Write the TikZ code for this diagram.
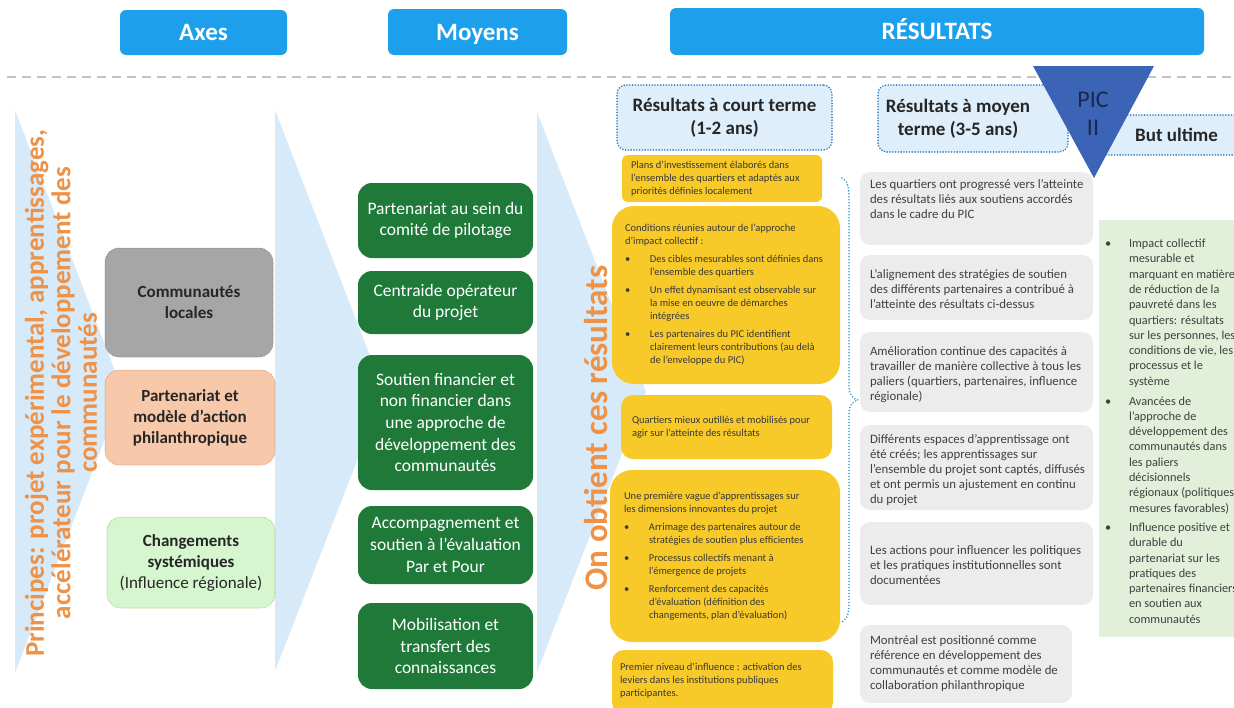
\documentclass[tikz,border=0pt]{standalone}
\usepackage{fontspec}
\setmainfont{Carlito}

\definecolor{hdrblue}{RGB}{28,160,236}
\definecolor{chevblue}{RGB}{214,234,250}
\definecolor{sepgrey}{RGB}{195,195,195}
\definecolor{movgreen}{RGB}{31,122,58}
\definecolor{resyellow}{RGB}{247,201,41}
\definecolor{resgrey}{RGB}{236,236,236}
\definecolor{goalgreen}{RGB}{226,240,217}
\definecolor{headfill}{RGB}{222,238,250}
\definecolor{dotblue}{RGB}{52,125,190}
\definecolor{bracecol}{RGB}{60,160,205}
\definecolor{princorange}{RGB}{238,146,72}
\definecolor{picblue}{RGB}{60,100,182}
\definecolor{pictext}{RGB}{24,40,78}
\definecolor{axgrey}{RGB}{166,166,166}
\definecolor{axgreyline}{RGB}{120,120,120}
\definecolor{axpeach}{RGB}{247,200,170}
\definecolor{axpeachline}{RGB}{205,140,95}
\definecolor{axmint}{RGB}{213,246,207}
\definecolor{axmintline}{RGB}{140,185,105}
\definecolor{darktext}{RGB}{38,38,38}
\definecolor{bodytext}{RGB}{64,64,64}

\newcommand\setfs[2]{\fontsize{#1}{#2}\selectfont}
\newcommand\bulitem[1][25pt]{\makebox[#1][l]{\textbullet}}
\newcommand\bulcont[1][25pt]{\hspace*{#1}}

\tikzset{
  hdr/.style={fill=hdrblue, rounded corners=6pt, text=white, text height=16pt, text depth=0pt, font=\bfseries\setfs{25}{28}},
  colhead/.style={fill=headfill, draw=dotblue, line width=1.8pt, dash pattern=on 0pt off 2.8pt, line cap=round, rounded corners=9pt},
  colheadtext/.style={align=center, text=darktext, font=\bfseries\setfs{19}{23}},
  axbox/.style={rounded corners=14pt, line width=1pt, dash pattern=on 0pt off 2pt, line cap=round, align=center, text=darktext, font=\bfseries\setfs{17}{21}},
  movbox/.style={fill=movgreen, rounded corners=14pt, minimum width=175pt, align=center, text=white, font=\setfs{17.5}{21.7}},
  ybox/.style={fill=resyellow},
  ytext/.style={align=left, text=black!78, font=\setfs{10.5}{13}},
  gbox/.style={fill=resgrey, rounded corners=10pt, minimum width=233pt},
  gtext/.style={align=left, text=bodytext, font=\setfs{12.8}{15}},
  rotlabel/.style={rotate=90, align=center, text=princorange, font=\bfseries},
  bracepath/.style={draw=bracecol, line width=1.8pt, dash pattern=on 0pt off 3pt, line cap=round},
}

\begin{document}
\begin{tikzpicture}[x=1pt, y=-1pt, every node/.style={inner sep=0pt}]
\useasboundingbox (0,0) rectangle (1234,707);
\clip (0,0) rectangle (1234,707);

% flow arrows behind the columns
\fill[chevblue] (15,110) -- (123,392) -- (15,673) -- cycle;
\fill[chevblue] (275,110) -- (384,392) -- (275,671) -- cycle;
\fill[chevblue] (537,112) -- (646,392) -- (537,672) -- cycle;

% column titles
\node[hdr, minimum width=167pt, minimum height=45pt] (axes) at (203.5,32.5) {Axes};
\node[hdr, minimum width=179pt, minimum height=46pt] (moyens) at (477.5,32) {Moyens};
\node[hdr, minimum width=534pt, minimum height=47pt] (resultats) at (937,31.5) {RÉSULTATS};

% separator
\draw[sepgrey, line width=2.6pt, dash pattern=on 9pt off 6pt] (7,77) -- (1234,77);

% vertical labels
\node[rotlabel, font=\bfseries\setfs{27}{26.5}] (principes) at (61,393)
  {Principes: projet expérimental, apprentissages,\\
   accélérateur pour le développement des\\
   communautés};
\node[rotlabel, font=\bfseries\setfs{33}{36}] (obtient) at (596,428) {On obtient ces résultats};

% axes
\node[axbox, fill=axgrey, draw=axgreyline, minimum width=168pt, minimum height=109pt] (ax1) at (189,302.5)
  {Communautés\\locales};
\node[axbox, fill=axpeach, draw=axpeachline, minimum width=170pt, minimum height=95pt] (ax2) at (190,417.5)
  {Partenariat et\\modèle d’action\\philanthropique};
\node[axbox, fill=axmint, draw=axmintline, minimum width=168pt, minimum height=91pt] (ax3) at (191,562.5)
  {Changements\\systémiques\\{\mdseries (Influence régionale)}};

% means
\node[movbox, minimum height=75pt] (m1) at (445.5,220.5) {Partenariat au sein du\\comité de pilotage};
\node[movbox, minimum height=63pt] (m2) at (445.5,302.5) {Centraide opérateur\\du projet};
\node[movbox, minimum height=135pt] (m3) at (445.5,422.5)
  {Soutien financier et\\non financier dans\\une approche de\\développement des\\communautés};
\node[movbox, minimum height=78pt] (m4) at (445.5,545) {Accompagnement et\\soutien à l’évaluation\\Par et Pour};
\node[movbox, minimum height=86pt] (m5) at (445.5,646) {Mobilisation et\\transfert des\\connaissances};

% result column headings
\node[colhead, minimum width=215pt, minimum height=65pt] (courthd) at (724.5,117.5) {};
\node[colheadtext] (courttx) at (courthd.center) {Résultats à court terme\\(1-2 ans)};
\node[colhead, minimum width=190pt, minimum height=67pt] (moyenhd) at (973,118.5) {};
\node[colheadtext] (moyentx) at (958,118.5) {Résultats à moyen\\terme (3-5 ans)};
\node[colhead, minimum width=162pt, minimum height=40pt] (buthd) at (1179,135) {};
\node[colheadtext, anchor=west] (buttx) at (1135,135) {But ultime};

% PIC II marker
\fill[picblue] (1033,66) -- (1154,66) -- (1094,178) -- cycle;
\node[align=center, text=pictext, font=\setfs{24}{28}] (pic) at (1093,114) {PIC\\II};

% short-term results
\node[ybox, rounded corners=6pt, minimum width=200pt, minimum height=47pt] (y1) at (722,178.5) {};
\node[ytext, anchor=west] (y1t) at ([xshift=9pt]y1.west)
  {Plans d'investissement élaborés dans\\
   l'ensemble des quartiers  et adaptés aux\\
   priorités définies localement};
\node[ybox, rounded corners=22pt, minimum width=228pt, minimum height=178pt] (y2) at (726,295) {};
\node[ytext, anchor=west] (y2t) at ([xshift=13pt]y2.west)
  {Conditions réunies autour de l'approche\\
   d'impact collectif :\\[5pt]
   \bulitem Des cibles mesurables sont définies dans\\
   \bulcont l'ensemble des quartiers\\[5pt]
   \bulitem Un effet dynamisant  est observable sur\\
   \bulcont la mise en oeuvre de démarches\\
   \bulcont intégrées\\[5pt]
   \bulitem Les partenaires du PIC identifient\\
   \bulcont clairement  leurs  contributions (au delà\\
   \bulcont de l'enveloppe du PIC)};
\node[ybox, rounded corners=12pt, minimum width=211pt, minimum height=64pt] (y3) at (726.5,427) {};
\node[ytext, anchor=west] (y3t) at ([xshift=11pt]y3.west)
  {Quartiers mieux outillés et mobilisés pour\\
   agir sur l'atteinte des résultats};
\node[ybox, rounded corners=22pt, minimum width=230pt, minimum height=172pt] (y4) at (725,556) {};
\node[ytext, anchor=west] (y4t) at ([xshift=14pt]y4.west)
  {Une première vague d'apprentissages  sur\\
   les dimensions  innovantes du projet\\[5pt]
   \bulitem Arrimage des partenaires autour de\\
   \bulcont stratégies de soutien plus efficientes\\[5pt]
   \bulitem Processus collectifs menant à\\
   \bulcont l'émergence de projets\\[5pt]
   \bulitem Renforcement des capacités\\
   \bulcont d'évaluation (définition des\\
   \bulcont changements, plan d'évaluation)};
\node[ybox, rounded corners=12pt, minimum width=221pt, minimum height=64pt] (y5) at (722.5,682) {};
\node[ytext, anchor=west] (y5t) at ([xshift=8pt,yshift=1pt]y5.west)
  {Premier niveau d'influence : activation des\\
   leviers  dans les institutions publiques\\
   participantes.};

% brace grouping the short-term results
\draw[bracepath] (842,178) .. controls (848,181) and (849,188) .. (849,200)
  -- (849,386) .. controls (849,395) and (853,399) .. (858,400)
  .. controls (853,401) and (849,405) .. (849,414)
  -- (849,600) .. controls (849,612) and (848,619) .. (842,622);

% medium-term results
\node[gbox, minimum height=73pt] (g1) at (976.5,208.5) {};
\node[gtext, anchor=west] (g1t) at ([xshift=10pt,yshift=9.5pt]g1.west)
  {Les quartiers ont progressé vers l'atteinte\\
   des résultats liés aux soutiens accordés\\
   dans le cadre du PIC};
\node[gbox, minimum height=65pt] (g2) at (976.5,287.5) {};
\node[gtext, anchor=west] (g2t) at ([xshift=10pt,yshift=-1.5pt]g2.west)
  {L’alignement des stratégies de soutien\\
   des différents partenaires a contribué à\\
   l'atteinte des résultats ci-dessus};
\node[gbox, minimum height=80pt] (g3) at (976.5,372) {};
\node[gtext, anchor=west] (g3t) at ([xshift=10pt,yshift=-3pt]g3.west)
  {Amélioration continue des capacités à\\
   travailler de manière collective à tous les\\
   paliers (quartiers, partenaires, influence\\
   régionale)};
\node[gbox, minimum height=85pt] (g4) at (976.5,467.5) {};
\node[gtext, anchor=west] (g4t) at ([xshift=10pt,yshift=-3pt]g4.west)
  {Différents espaces d'apprentissage ont\\
   été créés; les apprentissages sur\\
   l'ensemble du projet sont captés, diffusés\\
   et ont permis un ajustement en continu\\
   du projet};
\node[gbox, minimum height=83pt] (g5) at (976.5,563.5) {};
\node[gtext, anchor=west] (g5t) at ([xshift=10pt,yshift=-1.5pt]g5.west)
  {Les actions pour influencer les politiques\\
   et les pratiques  institutionnelles sont\\
   documentées};
\node[gbox, minimum width=212pt, minimum height=78pt] (g6) at (966,664) {};
\node[gtext, anchor=west] (g6t) at ([xshift=10pt]g6.west)
  {Montréal est positionné comme\\
   référence en développement des\\
   communautés et comme modèle de\\
   collaboration philanthropique};

% ultimate goal
\node[fill=goalgreen, minimum width=160pt, minimum height=417pt] (goal) at (1179,428.5) {};
\node[gtext, anchor=north west, font=\setfs{12.3}{15.3}] (goalt) at ([xshift=6pt,yshift=-19pt]goal.north west)
  {\bulitem[24pt]Impact collectif\\
   \bulcont[24pt]mesurable et\\
   \bulcont[24pt]marquant en matière\\
   \bulcont[24pt]de réduction de la\\
   \bulcont[24pt]pauvreté dans les\\
   \bulcont[24pt]quartiers: résultats\\
   \bulcont[24pt]sur les personnes, les\\
   \bulcont[24pt]conditions de vie, les\\
   \bulcont[24pt]processus et le\\
   \bulcont[24pt]système\\[4.5pt]
   \bulitem[24pt]Avancées de\\
   \bulcont[24pt]l'approche de\\
   \bulcont[24pt]développement des\\
   \bulcont[24pt]communautés dans\\
   \bulcont[24pt]les paliers\\
   \bulcont[24pt]décisionnels\\
   \bulcont[24pt]régionaux  (politiques,\\
   \bulcont[24pt]mesures favorables)\\[4pt]
   \bulitem[24pt]Influence positive et\\
   \bulcont[24pt]durable du\\
   \bulcont[24pt]partenariat sur les\\
   \bulcont[24pt]pratiques des\\
   \bulcont[24pt]partenaires financiers\\
   \bulcont[24pt]en soutien aux\\
   \bulcont[24pt]communautés};
\end{tikzpicture}
\end{document}
